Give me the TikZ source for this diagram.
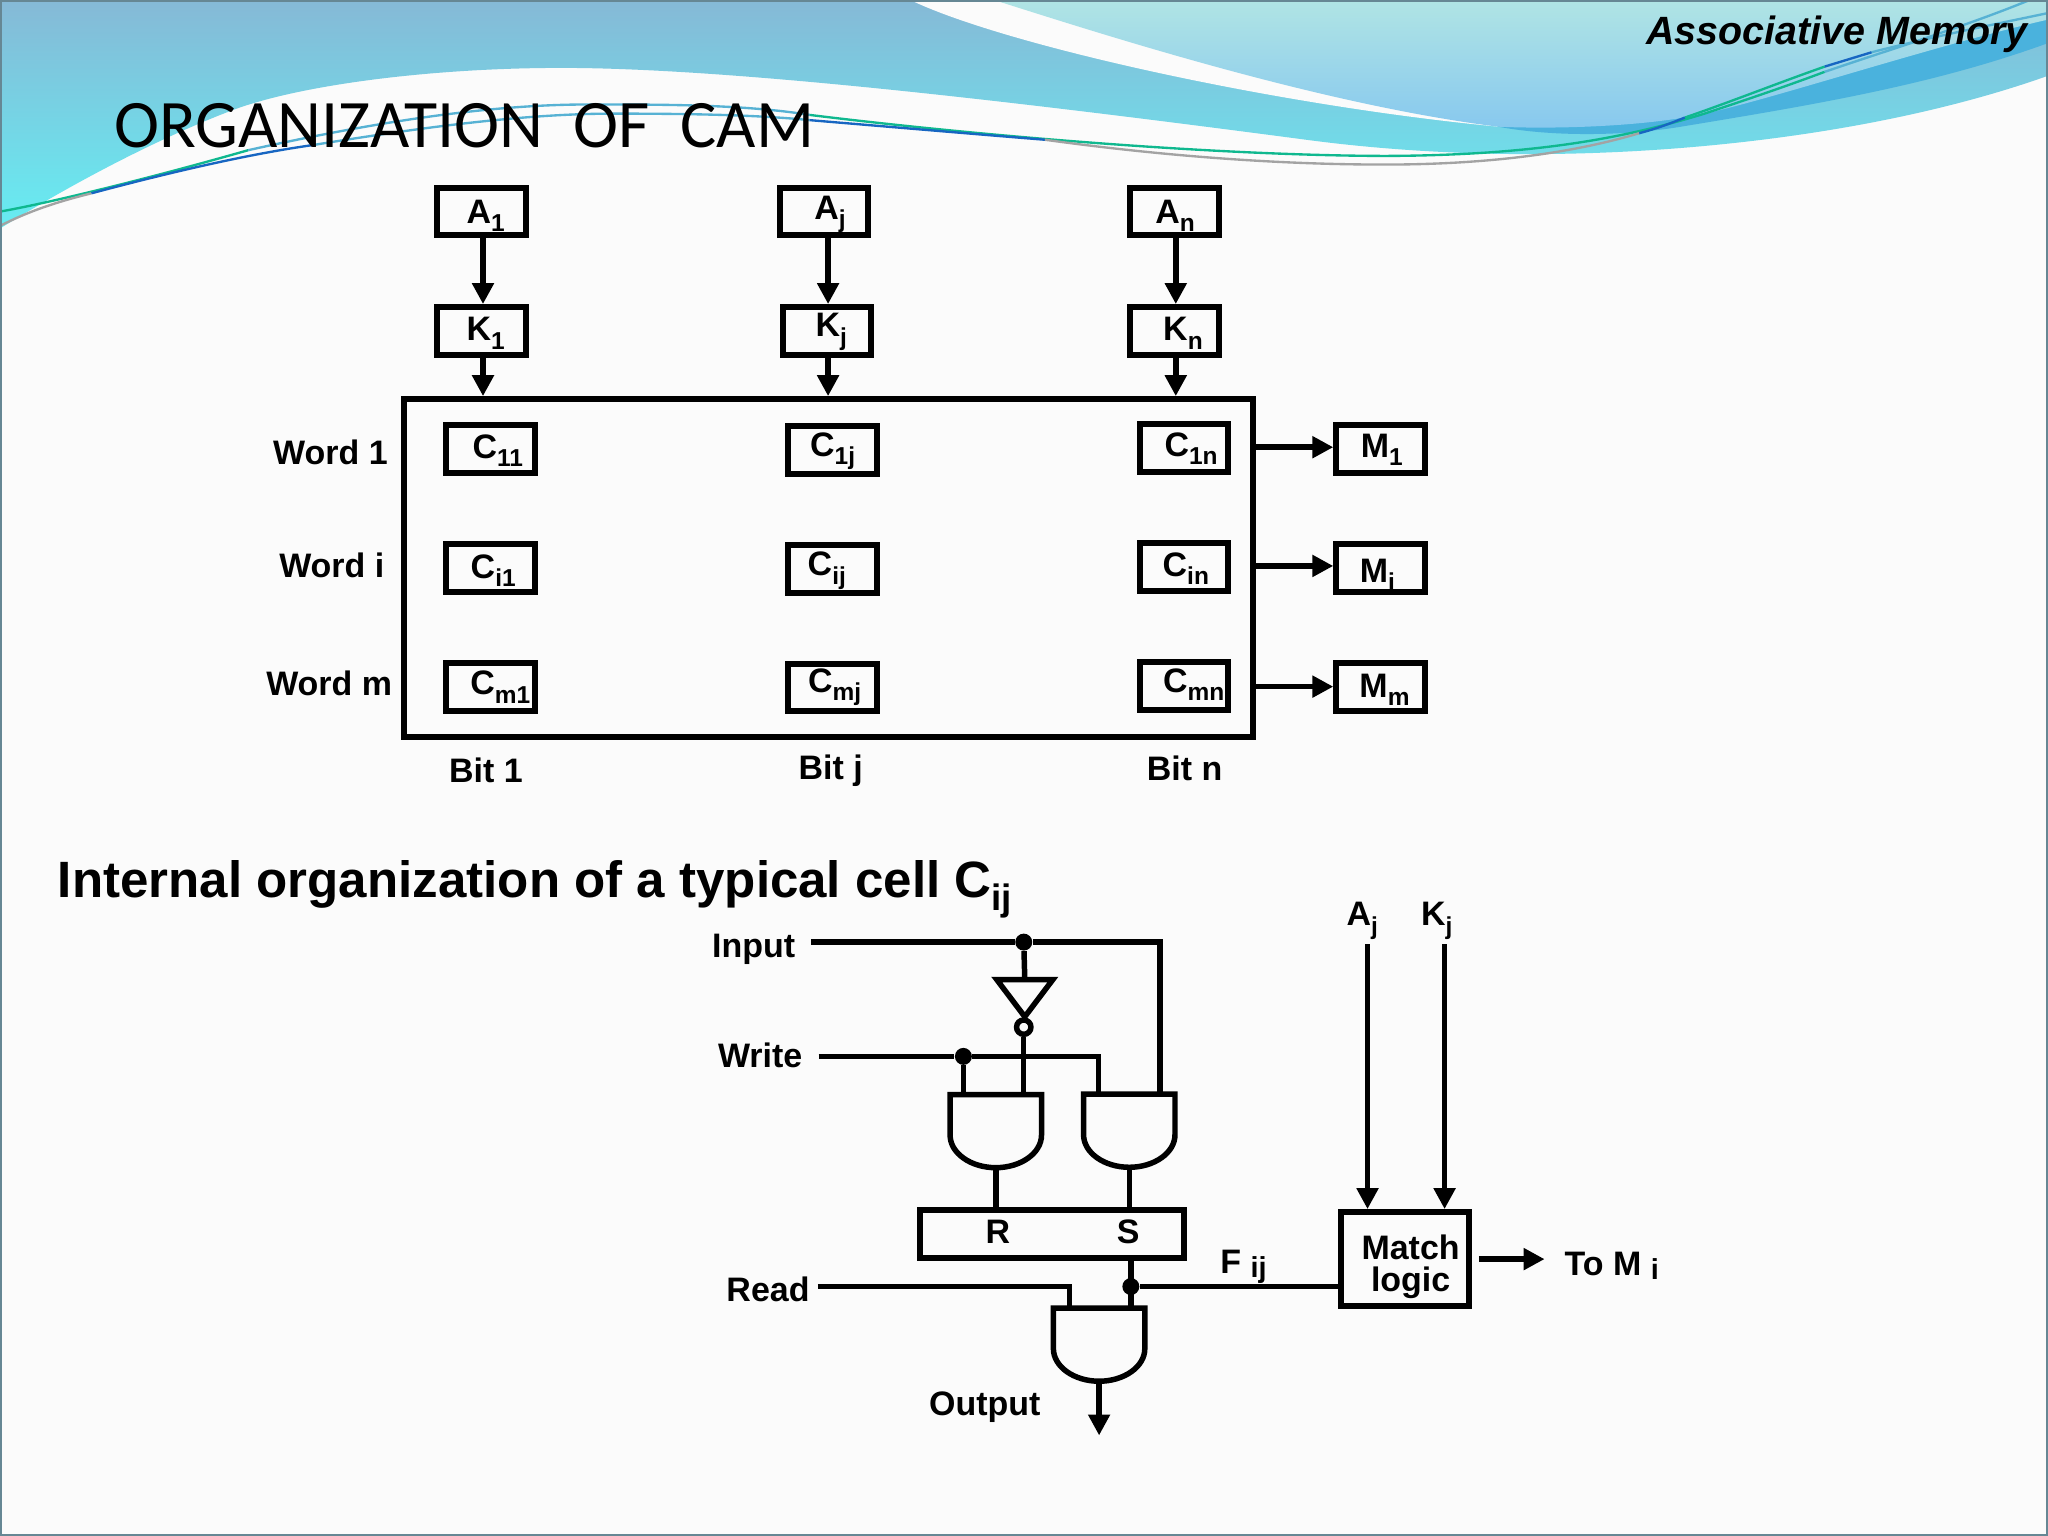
\documentclass[tikz,border=0pt]{standalone}
\usepackage{graphicx}
\usepackage{fontspec}
\setmainfont{Liberation Sans}
\newfontfamily\titlefont{Carlito}
\usetikzlibrary{arrows.meta}
\newlength{\du}
\setlength{\du}{0.5pt}
\newcommand{\low}[1]{\raisebox{-0.25em}{\scalebox{0.72}{#1}}}
\newcommand{\tail}[1]{\raisebox{-0.12em}{\scalebox{0.85}{#1}}}
% text in a box: shift right, shift down, text
\newcommand{\inbox}[3]{\hspace*{#1\du}\smash{\raisebox{-#2\du}{#3}}}
\definecolor{pageback}{rgb}{0.984, 0.984, 0.984}
\definecolor{framecolor}{rgb}{0.400, 0.530, 0.580}
\definecolor{wavetop}{rgb}{0.525, 0.725, 0.840}
\definecolor{wavemid}{rgb}{0.490, 0.815, 0.885}
\definecolor{wavelow}{rgb}{0.400, 0.930, 0.950}
\definecolor{lighttop}{rgb}{0.690, 0.895, 0.895}
\definecolor{lightlow}{rgb}{0.530, 0.785, 0.935}
\definecolor{bandcolor}{rgb}{0.290, 0.700, 0.865}
\definecolor{greenline}{rgb}{0.060, 0.720, 0.560}
\definecolor{paleline}{rgb}{0.340, 0.700, 0.830}
\definecolor{deepline}{rgb}{0.090, 0.400, 0.760}
\definecolor{greyline}{rgb}{0.640, 0.640, 0.640}
\tikzset{
  boxnode/.style={draw=black,fill=pageback,line width=4.6\du,rectangle,inner sep=0pt,
    minimum width=67.8\du,minimum height=36.6\du,
    font=\fontsize{13}{15}\selectfont\bfseries},
  lab/.style={inner sep=0pt,font=\fontsize{13}{15}\selectfont\bfseries},
  wire/.style={draw=black,line width=4.2\du},
  arrow/.style={wire,-{Triangle[length=8pt,width=8pt]}},
  dot/.style={circle,fill=black,inner sep=0pt,minimum size=13\du},
  bubble/.style={circle,draw=black,line width=4.2\du,inner sep=0pt,minimum size=11\du},
  gatebody/.style={rectangle,inner sep=0pt,outer sep=0pt,minimum width=70\du,minimum height=56\du},
  wave/.style={line width=1.8\du}
}
% and gate: name, centre
\newcommand{\andgate}[3]{%
  \node[gatebody] (#1) at (#2\du,#3\du) {};
  \draw[wire,line join=miter] (#1.north west) -- (#1.north east) -- ++(0,31\du)
    .. controls +(0,14\du) and +(19\du,0) .. (#1.south)
    .. controls +(-19\du,0) and +(0,14\du) .. ([yshift=3\du]#1.west) -- cycle;
}
\begin{document}
\begin{tikzpicture}
\pgftransformyscale{-1.000000}
\useasboundingbox (0\du,0\du) rectangle (1568\du,1176\du);
\fill[pageback] (0\du,0\du) rectangle (1568\du,1176\du);
% backdrop waves
\shade[top color=wavetop,middle color=wavemid,bottom color=wavelow]
  (0\du,0\du) -- (1568\du,0\du) -- (1568\du,58\du)
  .. controls (1450\du,100\du) and (1300\du,118\du) .. (1170\du,118\du)
  .. controls (1120\du,118\du) and (1060\du,115\du) .. (1000\du,107\du)
  .. controls (780\du,78\du) and (560\du,52\du) .. (430\du,52\du)
  .. controls (330\du,52\du) and (230\du,65\du) .. (179\du,84\du)
  .. controls (110\du,110\du) and (40\du,150\du) .. (0\du,175\du) -- cycle;
\fill[pageback] (697\du,0\du) .. controls (765\du,33\du) and (970\du,80\du) .. (1147\du,97\du)
  -- (1100\du,80\du) -- (760\du,0\du) -- cycle;
\fill[bandcolor] (1147\du,97\du)
  .. controls (1190\du,105\du) and (1245\du,104\du) .. (1287\du,97\du)
  .. controls (1390\du,80\du) and (1480\du,65\du) .. (1568\du,33\du)
  -- (1568\du,10\du) -- (1300\du,70\du) -- cycle;
\shade[top color=lighttop,bottom color=lightlow]
  (761\du,0\du) .. controls (840\du,25\du) and (1010\du,80\du) .. (1147\du,97\du)
  .. controls (1190\du,99\du) and (1260\du,97\du) .. (1305\du,87\du)
  .. controls (1360\du,75\du) and (1480\du,35\du) .. (1568\du,15\du)
  -- (1568\du,0\du) -- cycle;
% upper thin line
\draw[wave,draw=greenline] (0\du,162\du) .. controls (40\du,155\du) and (120\du,135\du) .. (190\du,115\du);
\draw[wave,draw=paleline] (190\du,115\du) .. controls (280\du,95\du) and (370\du,80\du) .. (450\du,80\du)
  .. controls (510\du,80\du) and (570\du,80\du) .. (620\du,88\du);
\draw[wave,draw=greenline] (620\du,88\du) .. controls (750\du,104\du) and (930\du,119\du) .. (1060\du,119.4\du)
  .. controls (1170\du,119\du) and (1240\du,107\du) .. (1305\du,87\du)
  .. controls (1335\du,77\du) and (1365\du,67\du) .. (1397\du,55\du);
\draw[wave,draw=paleline] (1397\du,55\du) .. controls (1450\du,37\du) and (1505\du,20\du) .. (1554\du,0\du);
% lower thin line
\draw[wave,draw=greyline] (0\du,173\du) .. controls (25\du,160\du) and (50\du,153\du) .. (70\du,148\du);
\draw[wave,draw=deepline] (70\du,148\du) .. controls (130\du,132\du) and (190\du,118\du) .. (240\du,111\du);
\draw[wave,draw=paleline] (240\du,111\du) .. controls (320\du,98\du) and (400\du,87\du) .. (470\du,87\du)
  .. controls (530\du,87\du) and (580\du,88\du) .. (620\du,92\du);
\draw[wave,draw=deepline] (620\du,92\du) .. controls (680\du,97\du) and (750\du,103\du) .. (800\du,107\du);
\draw[wave,draw=greyline] (800\du,107\du) .. controls (880\du,118\du) and (970\du,126\du) .. (1060\du,126\du)
  .. controls (1140\du,126\du) and (1205\du,117\du) .. (1255\du,102\du);
\draw[wave,draw=deepline] (1255\du,102\du) .. controls (1270\du,98\du) and (1280\du,94\du) .. (1290\du,90\du);
\draw[wave,draw=greenline] (1290\du,90\du) .. controls (1325\du,78\du) and (1360\du,64\du) .. (1397\du,51\du);
\draw[wave,draw=deepline] (1397\du,51\du) .. controls (1410\du,47\du) and (1420\du,44\du) .. (1433\du,40\du);
\draw[wave,draw=paleline] (1433\du,40\du) .. controls (1480\du,28\du) and (1530\du,18\du) .. (1568\du,10\du);
\draw[framecolor,line width=3\du] (0\du,0\du) rectangle (1568\du,1176\du);
% headings
\node[inner sep=0pt,anchor=west,font=\fontsize{26}{30}\selectfont\titlefont] (title) at (87\du,96\du) {ORGANIZATION\ \ OF\ \ CAM};
\node[inner sep=0pt,anchor=east,font=\fontsize{15.1}{18}\selectfont\bfseries\itshape] (chapter) at (1553\du,26\du) {Associative Memory};
\node[inner sep=0pt,anchor=west,font=\fontsize{19.55}{22}\selectfont\bfseries] (cellhead) at (44\du,681\du) {Internal organization of a typical cell C\low{ij}};
% cell array
\node[rectangle,draw=black,line width=4.6\du,inner sep=0pt,minimum width=650\du,minimum height=258.4\du] (main) at (634\du,434.8\du) {};
\node[boxnode] (A1) at (368.8\du,162\du) {\inbox{6}{9}{A\low{1}}};
\node[boxnode] (Aj) at (631\du,162\du) {\inbox{9}{6}{A\low{j}}};
\node[boxnode] (An) at (899.2\du,162\du) {\inbox{1}{8.8}{A\low{n}}};
\node[boxnode] (K1) at (368.8\du,253.4\du) {\inbox{6}{7.4}{K\low{1}}};
\node[boxnode] (Kj) at (633\du,253.4\du) {\inbox{7}{4.3}{K\low{j}}};
\node[boxnode] (Kn) at (899.2\du,253.4\du) {\inbox{13}{7.4}{K\low{n}}};
\node[boxnode] (C11) at (375.6\du,344\du) {\inbox{11}{7}{C\low{11}}};
\node[boxnode] (C1j) at (637.5\du,344.6\du) {\inbox{0}{4.6}{C\low{1j}}};
\node[boxnode] (C1n) at (906.4\du,343.2\du) {\inbox{11}{6}{C\low{1n}}};
\node[boxnode] (Ci1) at (375.6\du,435\du) {\inbox{4}{7.7}{C\low{i1}}};
\node[boxnode] (Cij) at (637.5\du,435.8\du) {\inbox{-9}{5}{C\low{ij}}};
\node[boxnode] (Cin) at (906.4\du,434\du) {\inbox{3}{7}{C\low{in}}};
\node[boxnode] (Cm1) at (375.6\du,525.8\du) {\inbox{15}{6}{C\low{m1}}};
\node[boxnode] (Cmj) at (637.5\du,526.4\du) {\inbox{3}{3.6}{C\low{mj}}};
\node[boxnode] (Cmn) at (906.4\du,525\du) {\inbox{15}{5}{C\low{mn}}};
\node[boxnode] (M1) at (1057\du,344\du) {\inbox{2}{6}{M\low{1}}};
\node[boxnode] (Mi) at (1057\du,434.6\du) {\inbox{-5}{11}{M\low{i}}};
\node[boxnode] (Mm) at (1057\du,525.7\du) {\inbox{6}{8.3}{M\low{m}}};
\node[lab] (word1) at (253\du,346\du) {Word 1};
\node[lab] (wordi) at (254\du,433\du) {Word i};
\node[lab] (wordm) at (252\du,523\du) {Word m};
\node[lab] (bit1) at (372\du,590\du) {Bit 1};
\node[lab] (bitj) at (636\du,590\du) {Bit j};
\node[lab] (bitn) at (907\du,588\du) {Bit n};
\draw[arrow] ([xshift=1\du]A1.south) -- ([xshift=1\du]K1.north);
\draw[arrow] ([xshift=3\du]Aj.south) -- ([xshift=3\du]Aj.south |- Kj.north);
\draw[arrow] ([xshift=1\du]An.south) -- ([xshift=1\du]Kn.north);
\draw[arrow] ([xshift=1\du]K1.south) -- ([xshift=1\du]K1.south |- main.north);
\draw[arrow] ([xshift=1\du]Kj.south) -- ([xshift=1\du]Kj.south |- main.north);
\draw[arrow] ([xshift=1\du]Kn.south) -- ([xshift=1\du]Kn.south |- main.north);
\draw[arrow] ([yshift=-1.6\du]M1.west -| main.east) -- ([yshift=-1.6\du]M1.west);
\draw[arrow] ([yshift=-1.3\du]Mi.west -| main.east) -- ([yshift=-1.3\du]Mi.west);
\draw[arrow] (Mm.west -| main.east) -- (Mm.west);
% typical cell
\node[lab] (input) at (577\du,727\du) {Input};
\node[lab] (write) at (582\du,808\du) {Write};
\node[lab] (read) at (588\du,987\du) {Read};
\node[lab] (output) at (754\du,1077\du) {Output};
\node[lab] (fij) at (952\du,970\du) {F \tail{ij}};
\node[lab] (topAj) at (1043\du,705\du) {A\low{j}};
\node[lab] (topKj) at (1100\du,705\du) {K\low{j}};
\node[lab] (toM) at (1234\du,969\du) {To M \tail{i}};
\node[dot] (jInput) at (783.8\du,721.3\du) {};
\node[dot] (jWrite) at (737.6\du,808.8\du) {};
\node[dot] (jF) at (865.8\du,985\du) {};
\node[gatebody,minimum width=43\du,minimum height=28.5\du] (inv) at (784.6\du,764.2\du) {};
\draw[wire,line join=miter] (inv.north west) -- (inv.north east) -- (inv.south) -- cycle;
\node[bubble] (bub) at (783.8\du,786.4\du) {};
\andgate{gateR}{762.4}{866}
\andgate{gateS}{864.6}{865.7}
\andgate{gateO}{841.5}{1029.5}
\coordinate (rA) at ([xshift=-24.8\du]gateR.north);
\coordinate (rB) at ([xshift=21.4\du]gateR.north);
\coordinate (sA) at ([xshift=-23.4\du]gateS.north);
\coordinate (sB) at ([xshift=23.4\du]gateS.north);
\coordinate (oA) at ([xshift=-22.5\du]gateO.north);
\coordinate (oB) at ([xshift=24.3\du]gateO.north);
\coordinate (outEnd) at (841.5\du,1099\du);
\coordinate (aIn) at (1047\du,723\du);
\coordinate (kIn) at (1106\du,723\du);
\node[boxnode,minimum width=202.8\du,minimum height=36.4\du] (rs) at (805.4\du,944.8\du) {};
\node[lab] (letterR) at (764\du,943\du) {R};
\node[lab] (letterS) at (863.8\du,943\du) {S};
\node[boxnode,minimum width=98\du,minimum height=72\du] (match) at (1076\du,964\du) {};
\node[lab,align=center,font=\fontsize{13}{12.5}\selectfont\bfseries] (matchtext) at (1080\du,970\du) {Match\\logic};
\draw[wire] ([xshift=12\du]input.east |- jInput) -- (jInput) -- (jInput -| sB) -- (sB);
\draw[wire] (jInput) -- (inv.north);
\draw[wire] (bub) -- (rB);
\draw[wire] ([xshift=12\du]write.east |- jWrite) -- (jWrite) -- (jWrite -| sA) -- (sA);
\draw[wire] (jWrite) -- (rA);
\draw[wire] (gateR.south) -- (gateR.south |- rs.north);
\draw[wire] (gateS.south) -- (gateS.south |- rs.north);
\draw[wire] (oB |- rs.south) -- (oB);
\draw[wire] ([xshift=6\du]read.east |- jF) -- (jF -| oA) -- (oA);
\draw[wire] (jF) -- (match.west |- jF);
\draw[arrow] (gateO.south) -- (outEnd);
\draw[arrow] (aIn) -- (aIn |- match.north);
\draw[arrow] (kIn) -- (kIn |- match.north);
\draw[arrow] ([xshift=5\du]match.east) -- ([xshift=-15\du]toM.west |- match.east);
\end{tikzpicture}
\end{document}
